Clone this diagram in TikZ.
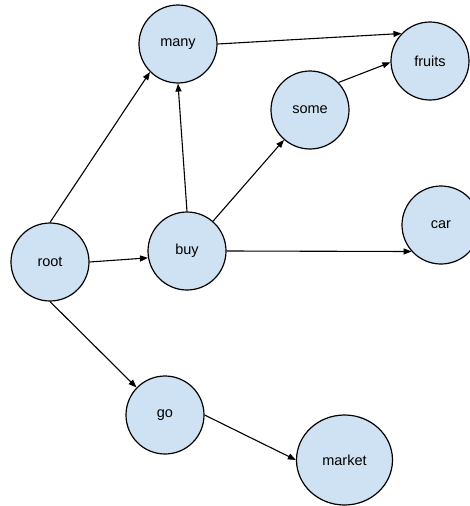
\documentclass[tikz,border=0pt]{standalone}
\usepackage{fontspec}
\setmainfont{Liberation Sans}
\usetikzlibrary{arrows.meta,shapes.geometric}
\definecolor{wordblue}{HTML}{CFE2F3}
\begin{document}
\begin{tikzpicture}[x=1pt,y=-1pt,
  word/.style={circle, draw=black, fill=wordblue, line width=1.2pt,
    minimum size=78pt, inner sep=0pt, font=\fontsize{14.5}{17}\selectfont},
  link/.style={line width=1.1pt, -{Triangle[length=8pt,width=6pt]}}]
  \useasboundingbox (0,0) rectangle (470,506);

  % words
  \node [word] (many)   at (178,44)  {many};
  \node [word] (fruits) at (430,61)  {fruits};
  \node [word] (some)   at (310,110) {some};
  \node [word] (root)   at (50,262)  {root};
  \node [word] (buy)    at (187,251) {buy};
  \node [word] (car)    at (441,225) {car};
  \node [word] (go)     at (165,415) {go};
  \node [word, ellipse, minimum width=96pt, minimum height=90pt] (market) at (344.5,460) {market};

  % links
  \draw [link] (root.north) -- (many.225);
  \draw [link] (root.east) -- (buy.190);
  \draw [link] (root.south) -- (go.136);
  \draw [link] (buy.north) -- (many.south);
  \draw [link] (buy) -- (some);
  \draw [link] (buy.east) -- (car.222);
  \draw [link] (many.east) -- (fruits.136);
  \draw [link] (some.44) -- (fruits.182);
  \draw [link] (go.east) -- (market.west);
\end{tikzpicture}
\end{document}
